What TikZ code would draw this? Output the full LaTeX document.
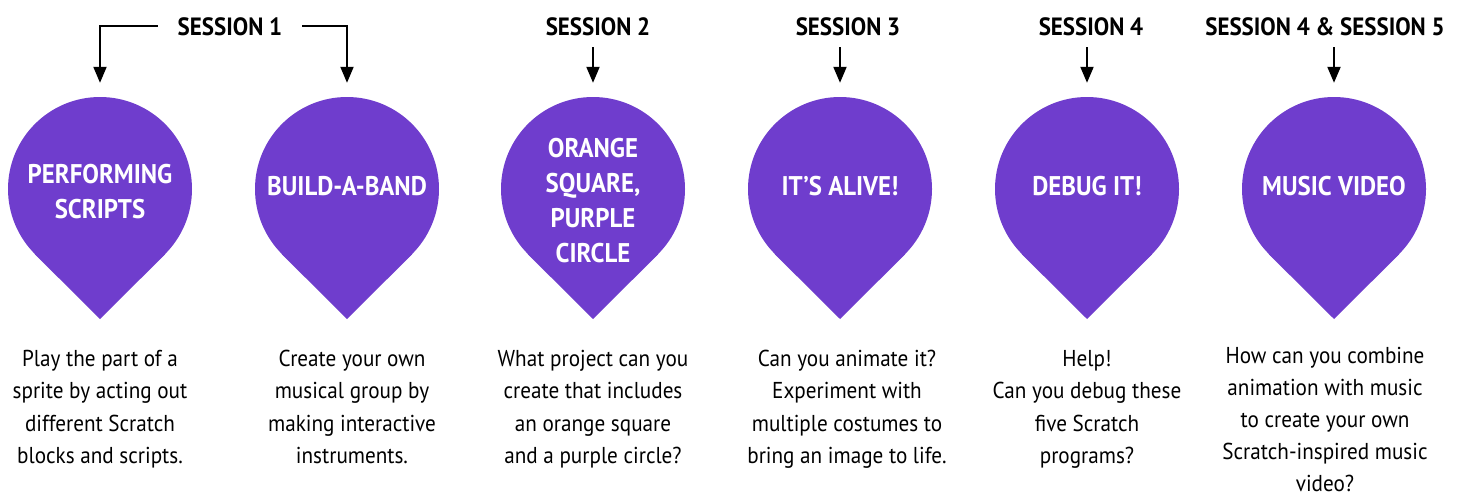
\documentclass[tikz,border=0pt]{standalone}
\usepackage{fontspec}
\setmainfont{PT Sans}[FakeStretch=0.92]
\usetikzlibrary{arrows.meta,calc}
\definecolor{pinpurple}{RGB}{111,61,205}
\begin{document}
\begin{tikzpicture}[x=1pt,y=-1pt,
  pinc/.style={circle,fill=pinpurple,minimum size=184pt,inner sep=0pt},
  pintext/.style={text=white,font=\bfseries\fontsize{27}{35}\selectfont,align=center,inner sep=0pt},
  head/.style={font=\bfseries\fontsize{25}{30}\selectfont,text height=18pt,text depth=0pt,inner xsep=20pt,inner ysep=12pt},
  desc/.style={font=\fontsize{23}{32.4}\selectfont,align=center,anchor=north,inner sep=0pt},
  arr/.style={line width=2pt,-{Triangle[width=13pt,length=16pt]},shorten >=14pt}]
\useasboundingbox (0,0) rectangle (1461,498);
% pins
\foreach \n/\x in {1/100,2/347,3/593,4/840,5/1087,6/1334}{
  \node[pinc] (p\n) at (\x,189) {};
  \fill[pinpurple] (p\n.-45) -- ($(p\n.center)+(0,130)$) -- (p\n.-135) -- cycle;
}
\node[pintext] (t1) at (100,192) {PERFORMING\\SCRIPTS};
\node[pintext] (t2) at (347,186) {BUILD-A-BAND};
\node[pintext] (t3) at (593,201) {ORANGE\\SQUARE,\\PURPLE\\CIRCLE};
\node[pintext] (t4) at (840,186) {IT’S ALIVE!};
\node[pintext] (t5) at (1087,186) {DEBUG IT!};
\node[pintext] (t6) at (1334,186) {MUSIC VIDEO};
% headings
\node[head] (h1) at (230,26) {SESSION 1};
\node[head] (h2) at (598,26) {SESSION 2};
\node[head] (h3) at (848,26) {SESSION 3};
\node[head] (h4) at (1091,26) {SESSION 4};
\node[head] (h5) at (1325,26) {SESSION 4 \& SESSION 5};
% arrows
\draw[arr] (h1.west) -| (p1.north);
\draw[arr] (h1.east) -| (p2.north);
\draw[arr] (p3.north |- h2.south) -- (p3.north);
\draw[arr] (p4.north |- h3.south) -- (p4.north);
\draw[arr] (p5.north |- h4.south) -- (p5.north);
\draw[arr] (p6.north |- h5.south) -- (p6.north);
% descriptions
\node[desc] (d1) at (100,350) {Play the part of a\\sprite by acting out\\different Scratch\\blocks and scripts.};
\node[desc] (d2) at (352,350) {Create your own\\musical group by\\making interactive\\instruments.};
\node[desc] (d3) at (593,350) {What project can you\\create that includes\\an orange square\\and a purple circle?};
\node[desc] (d4) at (847,350) {Can you animate it?\\Experiment with\\multiple costumes to\\bring an image to life.};
\node[desc] (d5) at (1087,350) {Help!\\Can you debug these\\five Scratch\\programs?};
\node[desc,font=\fontsize{23}{32}\selectfont] (d6) at (1325,347) {How can you combine\\animation with music\\to create your own\\Scratch-inspired music\\video?};
\end{tikzpicture}
\end{document}
